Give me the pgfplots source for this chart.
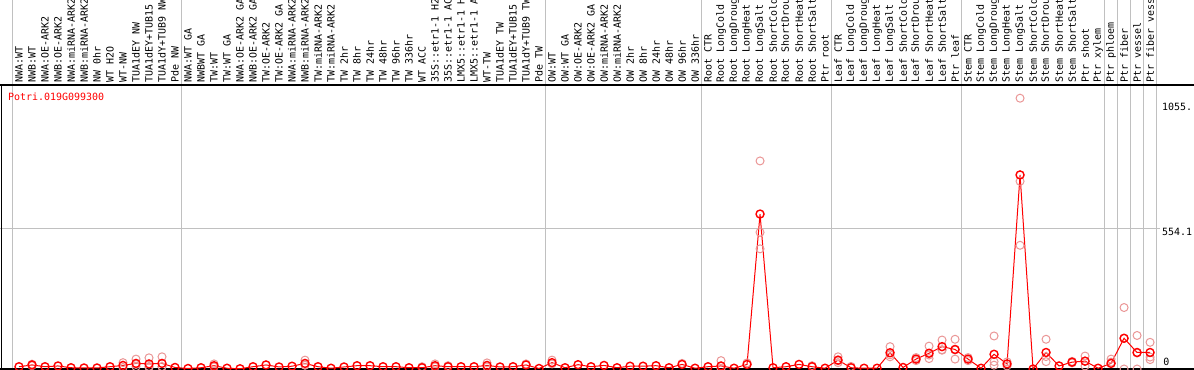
\documentclass[border=0pt]{standalone}
\usepackage{fontspec}
\setmonofont{DejaVu Sans Mono}
\usepackage{pgfplots}
\pgfplotsset{compat=1.18}
\usepackage{pgfplotstable}

\definecolor{meanred}{RGB}{255,0,0}
\definecolor{reppink}{RGB}{234,150,150}
\definecolor{sepgray}{RGB}{192,192,192}

\pgfplotstableread{
x y
0 9
1 16
2 9
3 12
4 5
5 4
6 4
7 9
8 14
9 22
10 20
11 22
12 6
13 2
14 5
15 13
16 3
17 1
18 9
19 16
20 8
21 11
22 22
23 9
24 3
25 8
26 13
27 13
28 9
29 9
30 5
31 5
32 13
33 9
34 9
35 9
36 14
37 8
38 9
39 16
40 2
41 25
42 5
43 17
44 9
45 14
46 5
47 11
48 11
49 13
50 5
51 18
52 3
53 9
54 12
55 3
56 18
57 610
58 5
59 9
60 18
61 9
62 3
63 35
64 5
65 3
66 3
67 64
68 6
69 39
70 62
71 88
72 77
73 39
74 3
75 58
76 20
77 764
78 0
79 65
80 12
81 27
82 31
83 3
84 22
85 121
86 65
87 65
}\means

\pgfplotstableread{
x y
1 19
1 13
8 25
8 6
9 39
9 18
9 9
10 44
10 10
10 6
11 48
11 9
11 9
15 20
15 8
22 35
22 16
22 15
31 9
32 20
32 8
33 13
36 24
36 8
39 20
41 35
41 20
51 22
54 33
54 2
56 24
57 819
57 538
57 473
61 13
63 48
63 25
63 32
64 10
67 88
67 56
67 48
69 33
69 45
70 90
70 41
70 55
71 114
71 74
71 76
72 117
72 39
72 75
73 33
73 45
75 130
75 29
75 15
76 28
76 12
77 1066
77 739
77 487
79 117
79 29
79 49
81 30
81 24
82 51
82 12
82 30
84 39
84 27
85 242
85 0
85 121
86 132
86 0
86 63
87 105
87 47
87 37
}\reps

\begin{document}
\begin{tikzpicture}
\useasboundingbox (0,0) rectangle (1194bp,370bp);
\clip (0,0) rectangle (1194bp,370bp);
\begin{axis}[
  at={(1bp,1bp)}, anchor=south west,
  scale only axis, width=1156bp, height=284bp,
  xmin=-1.3846, xmax=87.5385, ymin=0, ymax=1118,
  clip=false,
  axis line style={draw=none},
  major tick length=0pt,
  ytick=\empty,
  xtick={0,...,87},
  xticklabels={NWA:WT,NWB:WT,NWA:OE-ARK2,NWB:OE-ARK2,NWA:miRNA-ARK2,NWB:miRNA-ARK2,NW 0hr,WT H2O,WT-NW,TUA1dEY NW,TUA1dEY+TUB15 NW,TUA1dY+TUB9 NW,Pde NW,
    NWA:WT GA,NWBWT GA,TW:WT,TW:WT GA,NWA:OE-ARK2 GA,NWB:OE-ARK2 GA,TW:OE-ARK2,TW:OE-ARK2 GA,NWA:miRNA-ARK2 GA,NWB:miRNA-ARK2 GA,TW:miRNA-ARK2,TW:miRNA-ARK2 GA,TW 2hr,TW 8hr,TW 24hr,TW 48hr,TW 96hr,TW 336hr,WT ACC,35S::etr1-1 H2O,35S::etr1-1 ACC,LMX5::etr1-1 H2O,LMX5::etr1-1 ACC,WT-TW,TUA1dEY TW,TUA1dEY+TUB15 TW,TUA1dY+TUB9 TW,Pde TW,
    OW:WT,OW:WT GA,OW:OE-ARK2,OW:OE-ARK2 GA,OW:miRNA-ARK2,OW:miRNA-ARK2 GA,OW 2hr,OW 8hr,OW 24hr,OW 48hr,OW 96hr,OW 336hr,
    Root CTR,Root LongCold,Root LongDrought,Root LongHeat,Root LongSalt,Root ShortCold,Root ShortDrought,Root ShortHeat,Root ShortSalt,Ptr root,
    Leaf CTR,Leaf LongCold,Leaf LongDrought,Leaf LongHeat,Leaf LongSalt,Leaf ShortCold,Leaf ShortDrought,Leaf ShortHeat,Leaf ShortSalt,Ptr leaf,
    Stem CTR,Stem LongCold,Stem LongDrought,Stem LongHeat,Stem LongSalt,Stem ShortCold,Stem ShortDrought,Stem ShortHeat,Stem ShortSalt,Ptr shoot,Ptr xylem,
    Ptr phloem,Ptr fiber,Ptr vessel,Ptr fiber vessel},
  xticklabel pos=upper,
  xticklabel shift=2bp,
  xticklabel style={rotate=90, anchor=west, inner sep=0pt, font=\fontsize{9.97bp}{10bp}\selectfont\ttfamily},
]
\pgfplotsinvokeforeach{-0.5,12.5,40.5,52.5,62.5,72.5,83.5,84.5,85.5,86.5,87.5}{
  \draw[sepgray, line width=1bp] (axis cs:#1,0) -- (axis cs:#1,1480);
}
\draw[sepgray, line width=1bp] (axis cs:-1.5,554.1) -- (axis cs:87.8,554.1);
\draw[black, line width=1.5bp] (axis cs:-1.5,1118) -- (axis cs:92,1118);
\draw[black, line width=1.5bp] (axis cs:-1.5,0) -- (axis cs:92,0);
\draw[black, line width=1bp] (axis cs:-1.3846,0) -- (axis cs:-1.3846,1118);
\addplot[only marks, mark=o, mark size=4bp, draw=reppink, mark options={line width=1bp}] table {\reps};
\addplot[meanred, line width=1bp, mark=o, mark size=4bp, mark options={line width=1.4bp}] table {\means};
\node[anchor=west, inner sep=0pt, text=meanred, font=\fontsize{9.97bp}{10bp}\selectfont\ttfamily] at (axis cs:-0.85,1071) {Potri.019G099300};
\node[anchor=west, inner sep=0pt, font=\fontsize{9.97bp}{10bp}\selectfont\ttfamily] at (axis cs:87.92,1032) {1055.};
\node[anchor=west, inner sep=0pt, font=\fontsize{9.97bp}{10bp}\selectfont\ttfamily] at (axis cs:87.92,540) {554.1};
\node[anchor=west, inner sep=0pt, font=\fontsize{9.97bp}{10bp}\selectfont\ttfamily] at (axis cs:88.0,28) {0};
\end{axis}
\end{tikzpicture}
\end{document}
